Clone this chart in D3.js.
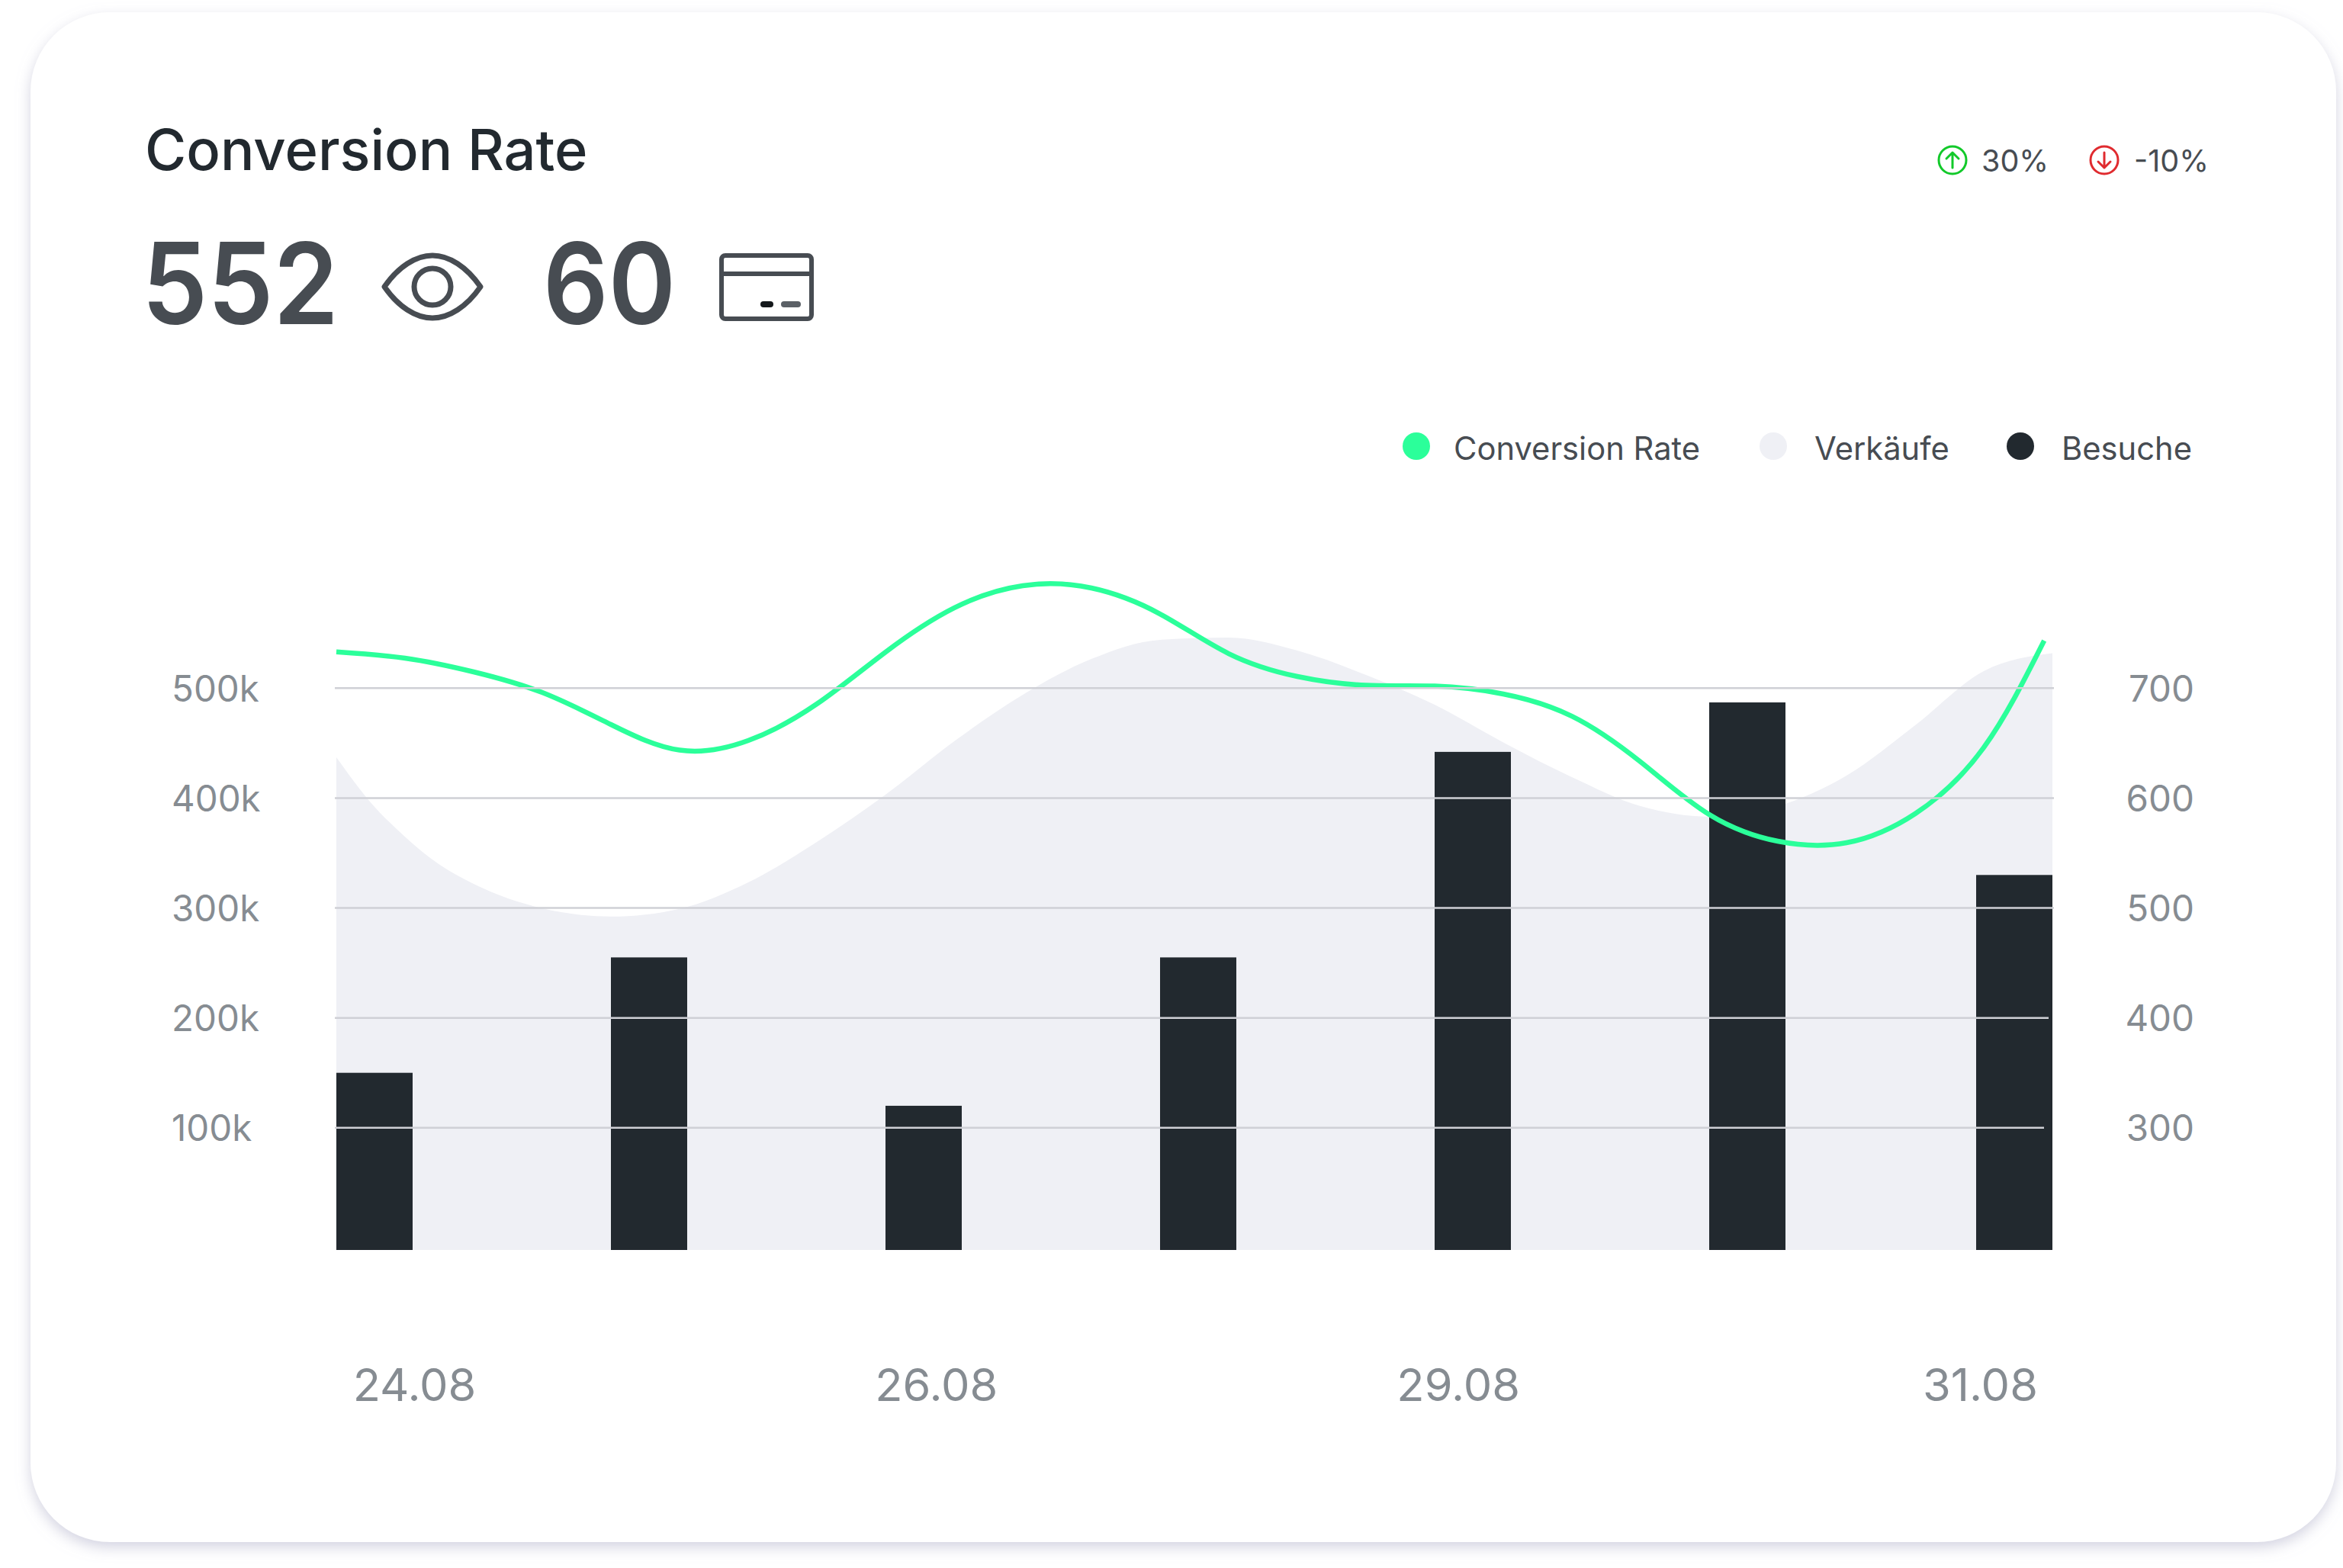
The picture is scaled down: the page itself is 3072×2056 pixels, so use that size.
<!DOCTYPE html>
<html>
<head>
<meta charset="utf-8">
<script src="https://cdn.jsdelivr.net/npm/d3@7"></script>
<style>
  html, body { margin: 0; background: #fff; }
  svg { display: block; }
  text { font-family: Inter, "Noto Sans", sans-serif; }
</style>
</head>
<body>
<svg id="drawing_region"></svg>
<script>
// values
const barDays = [0, 1, 2, 3, 4, 5, 6];
const besuche = [150000, 255000, 120000, 255000, 442000, 487000, 330000];

const verkaeufeDays = [0, 0.125, 0.25, 0.375, 0.5, 0.75, 1, 1.25, 1.5, 1.75, 2, 2.25, 2.5, 2.75, 3, 3.25, 3.5, 3.75, 4, 4.25, 4.5, 4.75, 5, 5.25, 5.5, 5.75, 6, 6.25];
const verkaeufe = [637, 596, 564.8, 539.5, 521.8, 499.6, 492.2, 499.2, 523.2, 560, 603, 651.6, 694, 726.6, 744, 746, 734.2, 712, 684.9, 650.6, 619, 592.6, 583.1, 592.6, 620.4, 666.2, 715.5, 731.7];

const conversionDays = [0, 0.25, 0.5, 0.75, 1, 1.25, 1.5, 1.75, 2, 2.25, 2.5, 2.75, 3, 3.25, 3.5, 3.75, 4, 4.25, 4.5, 4.75, 5, 5.25, 5.5, 5.75, 6, 6.22];
const conversion = [733, 727.3, 714.8, 696, 666.9, 643.6, 652.3, 685.6, 732.8, 773, 793.2, 791.1, 767.5, 731.4, 710.6, 702.6, 701.9, 694.7, 674.5, 632.9, 585, 560.7, 559.3, 585.7, 646, 743.2];

const leftTicks = [100000, 200000, 300000, 400000, 500000];
const rightTicks = [300, 400, 500, 600, 700];
const dateTicks = ["24.08", "26.08", "29.08", "31.08"];
const legendNames = ["Conversion Rate", "Verkäufe", "Besuche"];

const green = "#2bff9a", pale = "#eff0f5", dark = "#22292f", mid = "#474c52", grey = "#868c92", gridColor = "#cfd0d6";

const svg = d3.select("#drawing_region").attr("width", 3072).attr("height", 2056);

const filter = svg.append("defs").append("filter").attr("id", "cardShadow")
    .attr("x", "-3%").attr("y", "-3%").attr("width", "106%").attr("height", "106%");
filter.append("feDropShadow").attr("dx", 0).attr("dy", 7).attr("stdDeviation", 9)
    .attr("flood-color", "#c9c9da").attr("flood-opacity", 0.8);

svg.append("rect").attr("x", 40).attr("y", 16).attr("width", 3023).attr("height", 2006)
    .attr("rx", 104).attr("fill", "#fff").attr("filter", "url(#cardShadow)");

// scales
const plotLeft = 441, plotRight = 2691, plotBottom = 1639;
const xDay = d3.scaleLinear().domain([0, 6.25]).range([plotLeft, plotRight]);
const yLeft = d3.scaleLinear().domain([-11200, 500000]).range([plotBottom, 902.3]);
const yRight = d3.scaleLinear().domain([188.8, 700]).range([plotBottom, 902.3]);
const xDate = d3.scalePoint().domain(dateTicks).range([543, 2596]);
const barWidth = 100;

// area, monotone because the days are not evenly spaced
const area = d3.area()
    .x((d, i) => xDay(verkaeufeDays[i]))
    .y0(plotBottom)
    .y1(d => yRight(d))
    .curve(d3.curveMonotoneX);
svg.append("path").datum(verkaeufe).attr("fill", pale).attr("d", area);

// bars, the last one is pushed back inside the plot
svg.append("g").selectAll("rect")
    .data(besuche)
    .enter()
    .append("rect")
    .attr("x", (d, i) => Math.min(xDay(barDays[i]), plotRight - barWidth))
    .attr("y", d => yLeft(d))
    .attr("width", barWidth)
    .attr("height", d => plotBottom - yLeft(d))
    .attr("fill", dark);

// line
const line = d3.line()
    .x((d, i) => xDay(conversionDays[i]))
    .y(d => yRight(d))
    .curve(d3.curveNatural);
svg.append("path").datum(conversion)
    .attr("fill", "none")
    .attr("stroke", green)
    .attr("stroke-width", 6.5)
    .attr("d", line);

// grid lines, the lower two stop a bit short on the right
const gridEnd = { 100000: 2680, 200000: 2686 };
svg.append("g").selectAll("line")
    .data(leftTicks)
    .enter()
    .append("line")
    .attr("x1", 439)
    .attr("x2", d => gridEnd[d] || 2693)
    .attr("y1", d => yLeft(d))
    .attr("y2", d => yLeft(d))
    .attr("stroke", gridColor)
    .attr("stroke-width", 2.5);

// axes
const axisLeft = d3.axisLeft(yLeft).tickValues(leftTicks).tickSize(0).tickFormat(d => (d / 1000) + "k");
const leftG = svg.append("g").attr("transform", "translate(225,2)").call(axisLeft);
const axisRight = d3.axisRight(yRight).tickValues(rightTicks).tickSize(0);
const rightG = svg.append("g").attr("transform", "translate(2877,2)").call(axisRight);
const axisBottom = d3.axisBottom(xDate).tickSize(0);
const bottomG = svg.append("g").attr("transform", "translate(0,1795)").call(axisBottom);

[leftG, rightG, bottomG].forEach(g => {
    g.select(".domain").remove();
    g.selectAll("text").attr("fill", grey).attr("font-family", "Inter");
});
leftG.selectAll("text").attr("text-anchor", "start").attr("x", 0).attr("font-size", 47.5);
rightG.selectAll("text").attr("text-anchor", "end").attr("x", 0).attr("font-size", 47.5);
bottomG.selectAll("text").attr("y", 0).attr("dy", "42").attr("font-size", 59.5);

// header
svg.append("text").attr("x", 190).attr("y", 223).attr("font-size", 74).attr("font-weight", 500).attr("fill", dark).text("Conversion Rate");
svg.append("text").attr("x", 186).attr("y", 425).attr("font-size", 148).attr("font-weight", 600).attr("fill", mid)
    .attr("textLength", 258).attr("lengthAdjust", "spacingAndGlyphs").text("552");
svg.append("text").attr("x", 712).attr("y", 425).attr("font-size", 148).attr("font-weight", 600).attr("fill", mid)
    .attr("textLength", 174).attr("lengthAdjust", "spacingAndGlyphs").text("60");

// eye icon
const eye = svg.append("g").attr("fill", "none").attr("stroke", mid).attr("stroke-width", 7);
eye.append("path").attr("stroke-linejoin", "round")
    .attr("d", "M504 376 C522 350 545 335 567 335 C589 335 612 350 630 376 C612 402 589 417 567 417 C545 417 522 402 504 376Z");
eye.append("circle").attr("cx", 567).attr("cy", 376).attr("r", 24);

// card icon
const card = svg.append("g").attr("fill", "none").attr("stroke", mid).attr("stroke-width", 6);
card.append("rect").attr("x", 946).attr("y", 335).attr("width", 118).attr("height", 83).attr("rx", 5);
card.append("line").attr("x1", 946).attr("x2", 1064).attr("y1", 359).attr("y2", 359);
svg.append("rect").attr("x", 997).attr("y", 395).attr("width", 17).attr("height", 8).attr("rx", 4).attr("fill", "#14181b");
svg.append("rect").attr("x", 1024).attr("y", 395).attr("width", 26).attr("height", 8).attr("rx", 4).attr("fill", "#5b6066");

// change badges
const badges = [
    { cx: 2560, color: "#12c92a", label: "30%", tx: 2598, arrow: "M2560 220V200M2552 208L2560 200L2568 208" },
    { cx: 2759, color: "#e02b2f", label: "-10%", tx: 2798, arrow: "M2759 200V220M2751 212L2759 220L2767 212" },
];
badges.forEach(b => {
    svg.append("circle").attr("cx", b.cx).attr("cy", 210).attr("r", 18).attr("fill", "none").attr("stroke", b.color).attr("stroke-width", 3);
    svg.append("path").attr("d", b.arrow).attr("fill", "none").attr("stroke", b.color).attr("stroke-width", 3).attr("stroke-linecap", "round").attr("stroke-linejoin", "round");
    svg.append("text").attr("x", b.tx).attr("y", 225).attr("font-size", 39.5).attr("fill", mid).text(b.label);
});

// legend
const legendDot = [1857, 2325, 2649];
const legendText = [1906, 2379, 2703];
const legendColor = [green, pale, dark];
legendNames.forEach((name, i) => {
    svg.append("circle").attr("cx", legendDot[i]).attr("cy", 585).attr("r", 18).attr("fill", legendColor[i]);
    svg.append("text").attr("x", legendText[i]).attr("y", 603).attr("font-size", 41.7).attr("fill", mid).text(name);
});
</script>
</body>
</html>
